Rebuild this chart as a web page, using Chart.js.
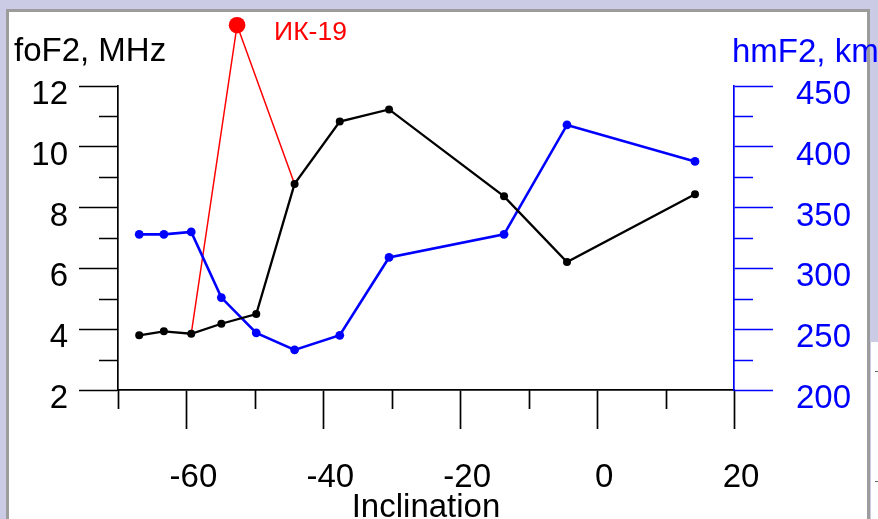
<!DOCTYPE html>
<html>
<head>
<meta charset="utf-8">
<script src="https://cdn.jsdelivr.net/npm/chart.js@4/dist/chart.umd.min.js"></script>
<style>
  html, body { margin: 0; padding: 0; width: 878px; height: 519px; overflow: hidden; background: #cbcbe6; }
  #panel { position: absolute; left: 6px; top: 9px; width: 858px; height: 560px; background: #fff; border: 3px solid #9c9c9c; box-sizing: content-box; }
  #back { position: absolute; left: 871px; top: 342px; width: 7px; height: 177px; background: #fff; }
  .dash { position: absolute; left: 875px; width: 3px; height: 1px; background: #666; }
  #wrap { position: absolute; left: 0; top: 0; width: 878px; height: 540px; }
</style>
</head>
<body>
<div id="panel"></div>
<div id="back"></div>
<div class="dash" style="top:371px"></div>
<div class="dash" style="top:481px"></div>
<div id="wrap"><canvas id="c" width="878" height="540"></canvas></div>
<script>
// Station magnetic inclination (degrees)
const inclination = [-66.9, -63.3, -59.3, -54.9, -49.8, -44.2, -37.6, -30.4, -13.6, -4.4, 14.3];
// Critical frequency of the F2 layer, MHz
const foF2 = [3.80, 3.93, 3.85, 4.18, 4.50, 8.78, 10.83, 11.23, 8.37, 6.21, 8.44];
// Peak height of the F2 layer, km
const hmF2 = [328, 328, 330, 276, 247, 233, 245, 309, 328, 418, 388];
// Intercosmos-19 satellite foF2 values
const ikInclination = [-59.3, -52.6, -44.2];
const ikFoF2 = [3.85, 14.0, 8.78];

// Axis ticks
const xMajor = [-60, -40, -20, 0, 20];
const xMinor = [-70, -50, -30, -10, 10];
const yMajor = [2, 4, 6, 8, 10, 12];
const yMinor = [3, 5, 7, 9, 11];
const y2Major = [200, 250, 300, 350, 400, 450];
const y2Minor = [225, 275, 325, 375, 425];

const FONT = '"Liberation Sans", Arial, sans-serif';
const BLUE = '#0000ff';
const RED = '#ff0000';
const TICK_W = 1.7;

const pts = (xs, ys) => xs.map((x, i) => ({ x, y: ys[i] }));
const setTicks = arr => scale => { scale.ticks = arr.map(v => ({ value: v })); };

const decorations = {
  id: 'decorations',
  afterDatasetsDraw(chart) {
    // the satellite peak lies above the plot area, so its marker is painted here
    const { ctx } = chart;
    const meta = chart.getDatasetMeta(2);
    ctx.save();
    meta.data.forEach(pt => {
      const r = pt.options.radius;
      if (r > 0) {
        ctx.beginPath();
        ctx.arc(pt.x, pt.y, r, 0, Math.PI * 2);
        ctx.fillStyle = pt.options.backgroundColor;
        ctx.fill();
      }
    });
    ctx.restore();
  },
  afterDraw(chart) {
    const { ctx, scales: { x, y, y2 } } = chart;
    ctx.save();
    ctx.lineWidth = TICK_W;
    // minor ticks
    ctx.strokeStyle = '#000';
    ctx.beginPath();
    yMinor.forEach(v => { const p = Math.round(y.getPixelForValue(v)) + 0.5; ctx.moveTo(y.right - 19, p); ctx.lineTo(y.right, p); });
    xMinor.forEach(v => { const p = Math.round(x.getPixelForValue(v)) + 0.5; ctx.moveTo(p, x.top); ctx.lineTo(p, x.top + 19); });
    ctx.stroke();
    ctx.strokeStyle = BLUE;
    ctx.beginPath();
    y2Minor.forEach(v => { const p = Math.round(y2.getPixelForValue(v)) + 0.5; ctx.moveTo(y2.left, p); ctx.lineTo(y2.left + 19, p); });
    ctx.stroke();

    // axis captions
    ctx.textBaseline = 'alphabetic';
    ctx.textAlign = 'left';
    ctx.font = '33px ' + FONT;
    ctx.fillStyle = '#000';
    ctx.fillText('foF2, MHz', 14, 61);
    ctx.fillStyle = BLUE;
    ctx.fillText('hmF2, km', 732, 62);

    // satellite label next to its peak value
    const peak = chart.getDatasetMeta(2).data[1];
    ctx.font = '26.5px ' + FONT;
    ctx.fillStyle = RED;
    ctx.fillText('ИК-19', peak.x + 37, peak.y + 14.5);
    ctx.restore();
  }
};

new Chart(document.getElementById('c'), {
  type: 'scatter',
  data: {
    datasets: [
      {
        label: 'foF2',
        data: pts(inclination, foF2),
        yAxisID: 'y',
        showLine: true,
        borderColor: '#000',
        borderWidth: 2.3,
        pointRadius: 4,
        pointBackgroundColor: '#000',
        pointBorderWidth: 0,
        clip: false
      },
      {
        label: 'hmF2',
        data: pts(inclination, hmF2),
        yAxisID: 'y2',
        showLine: true,
        borderColor: BLUE,
        borderWidth: 2.6,
        pointRadius: 4.4,
        pointBackgroundColor: BLUE,
        pointBorderWidth: 0,
        clip: false
      },
      {
        label: 'ИК-19',
        data: pts(ikInclination, ikFoF2),
        yAxisID: 'y',
        showLine: true,
        borderColor: RED,
        borderWidth: 1.5,
        pointRadius: [0, 8.3, 0],
        pointBackgroundColor: RED,
        pointBorderWidth: 0,
        clip: false
      }
    ]
  },
  options: {
    responsive: false,
    animation: false,
    events: [],
    layout: { padding: { top: 86, left: 0, right: 0, bottom: 0 } },
    plugins: { legend: { display: false }, tooltip: { enabled: false }, title: { display: false } },
    scales: {
      x: {
        type: 'linear',
        position: 'bottom',
        min: -70,
        max: 20,
        afterBuildTicks: setTicks(xMajor),
        afterFit: s => { s.height = 150; },
        grid: { display: true, drawOnChartArea: false, drawTicks: true, tickLength: 39, tickColor: '#000', tickWidth: TICK_W },
        border: { display: true, color: '#000', width: TICK_W },
        ticks: { color: '#000', font: { size: 33, family: FONT }, padding: 29, labelOffset: 7, maxRotation: 0, autoSkip: false },
        title: { display: true, text: 'Inclination', color: '#000', font: { size: 33, family: FONT }, padding: { top: 0, bottom: 12 } }
      },
      y: {
        type: 'linear',
        position: 'left',
        min: 2,
        max: 12,
        afterBuildTicks: setTicks(yMajor),
        afterFit: s => { s.width = 118; },
        grid: { display: true, drawOnChartArea: false, drawTicks: true, tickLength: 39, tickColor: '#000', tickWidth: TICK_W },
        border: { display: true, color: '#000', width: TICK_W },
        ticks: { color: '#000', font: { size: 33, family: FONT }, padding: 11, labelOffset: 9, autoSkip: false }
      },
      y2: {
        type: 'linear',
        position: 'right',
        min: 200,
        max: 450,
        afterBuildTicks: setTicks(y2Major),
        afterFit: s => { s.width = 144; },
        grid: { display: true, drawOnChartArea: false, drawTicks: true, tickLength: 39, tickColor: BLUE, tickWidth: TICK_W },
        border: { display: true, color: BLUE, width: TICK_W },
        ticks: { color: BLUE, font: { size: 33, family: FONT }, padding: 23, labelOffset: 9, autoSkip: false }
      }
    }
  },
  plugins: [decorations]
});
</script>
</body>
</html>
